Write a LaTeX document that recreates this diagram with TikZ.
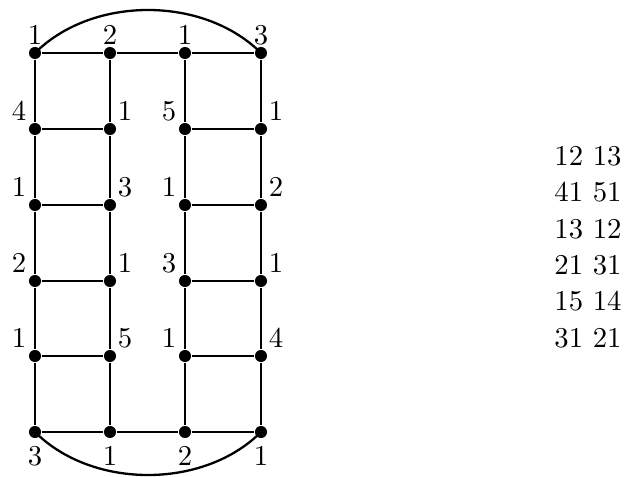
\documentclass[tikz,border=0pt]{standalone}
\usetikzlibrary{calc}
\begin{document}
\begin{tikzpicture}[x=0.348pt,y=-0.348pt,
  dot/.style={circle,fill=black,inner sep=0pt,minimum size=4.2pt},
  lab/.style={inner sep=0pt},
  edge/.style={line width=0.8pt}]
\useasboundingbox (0,0) rectangle (629,477);
% vertices
\foreach \c/\x in {1/35,2/110,3/185,4/261}{
  \foreach \r/\y in {1/53,2/129,3/205,4/281,5/356,6/432}{
    \node[dot] (v\c\r) at (\x,\y) {};
  }
}
% columns
\foreach \c in {1,2,3,4}{
  \draw[edge] (v\c1) -- (v\c2) -- (v\c3) -- (v\c4) -- (v\c5) -- (v\c6);
}
% top and bottom rows
\draw[edge] (v11) -- (v21) -- (v31) -- (v41);
\draw[edge] (v16) -- (v26) -- (v36) -- (v46);
% rungs
\foreach \r in {2,3,4,5}{
  \draw[edge] (v1\r) -- (v2\r);
  \draw[edge] (v3\r) -- (v4\r);
}
% arcs
\draw[edge] (v11.center) to[out=45,in=135,looseness=0.92] (v41.center);
\draw[edge] (v16.center) to[out=-45,in=-135,looseness=0.92] (v46.center);
% top labels
\node[lab] (t1) at ($(v11)+(0,-18)$) {1};
\node[lab] (t2) at ($(v21)+(0,-18)$) {2};
\node[lab] (t3) at ($(v31)+(0,-18)$) {1};
\node[lab] (t4) at ($(v41)+(0,-18)$) {3};
% bottom labels
\node[lab] (b1) at ($(v16)+(0,24)$) {3};
\node[lab] (b2) at ($(v26)+(0,24)$) {1};
\node[lab] (b3) at ($(v36)+(0,24)$) {2};
\node[lab] (b4) at ($(v46)+(0,24)$) {1};
% side labels
\foreach \r/\a/\b/\cc/\d in {2/4/1/5/1,3/1/3/1/2,4/2/1/3/1,5/1/5/1/4}{
  \node[lab] (la\r) at ($(v1\r)+(-16,-18)$) {\a};
  \node[lab] (lb\r) at ($(v2\r)+(15,-18)$) {\b};
  \node[lab] (lc\r) at ($(v3\r)+(-16,-18)$) {\cc};
  \node[lab] (ld\r) at ($(v4\r)+(15,-18)$) {\d};
}
% table
\node[align=center,inner sep=0pt,font=\fontsize{10}{12.65}\selectfont] (tbl) at (588,247)
  {12 13\\41 51\\13 12\\21 31\\15 14\\31 21};
\end{tikzpicture}
\end{document}
